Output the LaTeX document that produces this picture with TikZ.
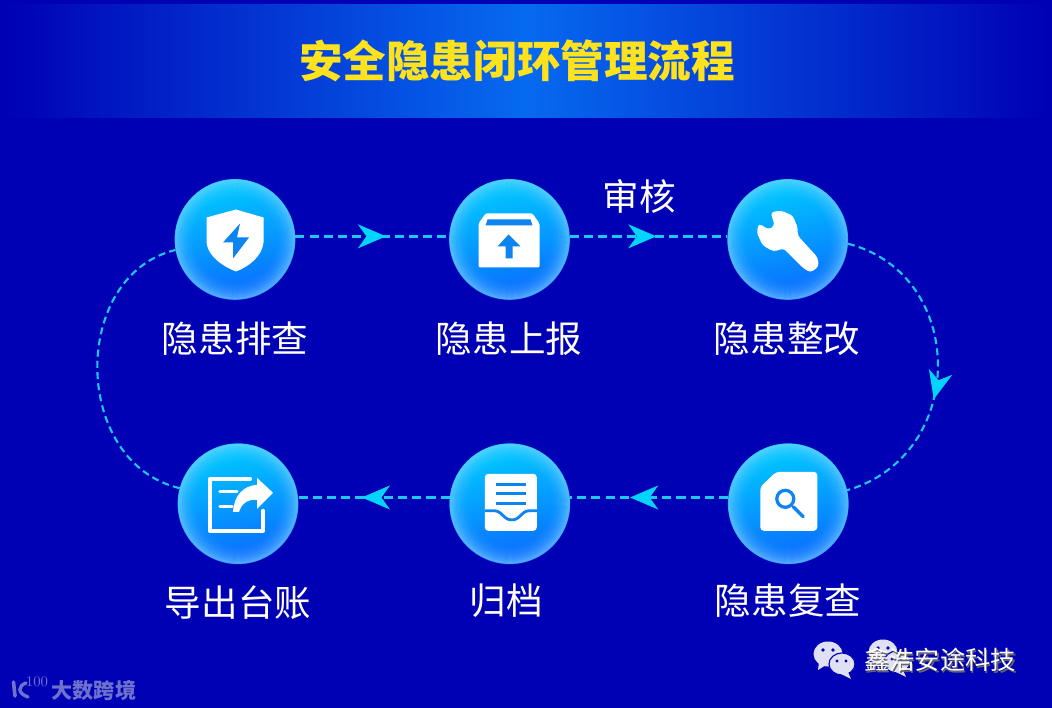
\documentclass[tikz,border=0pt]{standalone}
\usepackage{fontspec}
\usetikzlibrary{arrows.meta,decorations.markings}
\newfontfamily\cjk{Noto Sans CJK SC}
\definecolor{bgc}{RGB}{0,0,180}
\definecolor{barc}{RGB}{6,106,240}
\definecolor{titc}{RGB}{255,226,30}
\definecolor{flowc}{RGB}{30,200,245}
\definecolor{tipc}{RGB}{0,212,255}
\definecolor{ballt}{RGB}{0,205,255}
\definecolor{ballb}{RGB}{10,104,255}
\definecolor{rimc}{RGB}{130,210,255}
\definecolor{glyc}{RGB}{14,132,240}
\definecolor{wmc}{RGB}{224,224,245}
\definecolor{logoc}{RGB}{110,114,205}
\newcommand{\rimball}[1]{%
  \foreach \r/\o in {59/.58,57/.46,55/.36,53/.28,51/.21,49/.15,47/.10,45/.06,43/.03}
    \draw[rimc, opacity=\o, line width=2.1*0.71pt] (#1.center) circle[radius=\r];}
\newcommand{\icShield}[1]{%
  \begin{scope}[shift={(#1.center)}]
    \fill[white] (1,-30) -- (-28.5,-22) -- (-28.5,3) .. controls (-27,17) and (-12,27) .. (1,32)
      .. controls (14,27) and (27,17) .. (28.5,3) -- (28.5,-22) -- cycle;
    \fill[glyc] (5,-16) -- (-12,3) -- (-2,3) -- (-2,19) -- (14,-2) -- (2,-2) -- cycle;
  \end{scope}}
\newcommand{\icBox}[1]{%
  \begin{scope}[shift={(#1.center)}]
    \fill[white, rounded corners=1pt] (-24,-26) -- (23,-26) -- (30,-16) -- (30,28) -- (-31,28) -- (-31,-16) -- cycle;
    \fill[glyc] (-22,-20) -- (21,-20) -- (23,-14) -- (-24,-14) -- cycle;
    \fill[glyc] (-1,-5) -- (11,7) -- (3,7) -- (3,19) -- (-4,19) -- (-4,7) -- (-12,7) -- cycle;
  \end{scope}}
\newcommand{\icWrench}[1]{%
  \begin{scope}[shift={(#1.center)}]
    \fill[white, rounded corners=2.2pt] (-17,-27) -- (-7,-29) -- (5,-24) -- (10,-12) -- (10,-4) -- (30,18)
      -- (31,27) -- (23,33) -- (16,29) -- (-4,9) -- (-14,12) -- (-25,6) -- (-31,-7) -- (-29,-16)
      -- (-19,-10) -- (-13,-14) -- cycle;
  \end{scope}}
\newcommand{\icSearch}[1]{%
  \begin{scope}[shift={(#1.center)}]
    \fill[white, rounded corners=2.5pt] (-28,-17) -- (-12,-32) -- (29,-32) -- (29,27) -- (-28,27) -- cycle;
    \draw[glyc, line width=2.3pt] (-3,-5) circle[radius=8.5];
    \draw[glyc, line width=2.3pt, line cap=round] (5,3) -- (15,13);
  \end{scope}}
\newcommand{\icTray}[1]{%
  \begin{scope}[shift={(#1.center)}]
    \fill[white, rounded corners=2.5pt] (-25,-30) rectangle (27,27);
    \foreach \y in {-19,-10,0} { \draw[glyc, line width=2.1pt] (-14,\y) -- (16,\y); }
    \draw[glyc, line width=2pt, rounded corners=2pt] (-25,7) -- (-12,7) -- (-2,16) -- (6,16) -- (16,7) -- (27,7);
  \end{scope}}
\newcommand{\icExport}[1]{%
  \begin{scope}[shift={(#1.center)}]
    \draw[white, line width=2.9pt, line cap=round, line join=round] (12,-25) -- (-28,-25) -- (-28,27) -- (25,27) -- (25,7);
    \draw[white, line width=2.4pt, line cap=round] (-18,-12) -- (-1,-12);
    \draw[white, line width=2.4pt, line cap=round] (-18,3) -- (-6,3);
    \fill[white] (19,-26) -- (35,-11) -- (19,5) -- (19,-4) .. controls (9,-5) and (3,1) .. (1,8)
      -- (-5,8) .. controls (-4,-8) and (5,-18) .. (19,-19) -- cycle;
  \end{scope}}
\newcommand{\wechat}[2]{%
  \begin{scope}[shift={(#1,#2)}]
    \fill[wmc] (0,0) ellipse[x radius=14.5, y radius=12.5];
    \fill[wmc] (-9,8) -- (-10,16) -- (-2,11) -- cycle;
    \fill[bgc] (-5,-4) circle[radius=1.8] (5,-4) circle[radius=1.8];
    \fill[wmc, draw=bgc, line width=0.8pt] (14,10) ellipse[x radius=13, y radius=11];
    \fill[wmc] (20,18) -- (23,25) -- (13,20) -- cycle;
    \fill[bgc] (9,7) circle[radius=1.6] (18,7) circle[radius=1.6];
  \end{scope}}
\begin{document}
\begin{tikzpicture}[
    x=0.25mm, y=-0.25mm,
    ball/.style={circle, minimum size=3.02cm, inner sep=0pt, outer sep=0pt, top color=ballt, bottom color=ballb, shading angle=12},
    tag/.style={font=\cjk\fontsize{26}{30}\selectfont, text=white, inner sep=0pt},
    flow/.style={draw=flowc, line width=1.8pt, dash pattern=on 6.5pt off 3.6pt},
    thin flow/.style={draw=flowc, line width=1.5pt, dash pattern=on 5pt off 3pt},
    headat/.style={postaction={decorate}, decoration={markings, mark=at position #1 with
      {\arrow[dash pattern=]{Stealth[length=20pt, width=17pt, inset=6pt, color=tipc]}}}},
  ]
  \useasboundingbox (0,0) rectangle (1052,708);
  \fill[bgc] (0,0) rectangle (1052,708);

  % --- banner and title
  \shade[left color=bgc, right color=bgc, middle color=barc] (0,5) rectangle (1052,118);
  \node[font=\cjk\bfseries\fontsize{31}{36}\selectfont, text=titc, inner sep=0pt] (titel) at (517,61) {安全隐患闭环管理流程};

  % --- the six steps
  \node[ball] (paicha)   at (235,239.5) {};
  \node[ball] (shangbao) at (509.5,239.5) {};
  \node[ball] (zhenggai) at (787.7,239.5) {};
  \node[ball] (fucha)    at (788.3,503.8) {};
  \node[ball] (guidang)  at (509.8,503.8) {};
  \node[ball] (taizhang) at (238,503.8) {};
  \foreach \n in {paicha,shangbao,zhenggai,fucha,guidang,taizhang} { \rimball{\n} }

  \icShield{paicha}
  \icBox{shangbao}
  \icWrench{zhenggai}
  \icSearch{fucha}
  \icTray{guidang}
  \icExport{taizhang}

  \node[tag] (lbpaicha)   at (235,339) {隐患排查};
  \node[tag] (lbshangbao) at (509,339) {隐患上报};
  \node[tag] (lbzhenggai) at (787,339) {隐患整改};
  \node[tag] (lbfucha)    at (788,601) {隐患复查};
  \node[tag] (lbguidang)  at (506,601) {归档};
  \node[tag] (lbtaizhang) at (238,603) {导出台账};
  \node[tag] (lbshenhe)   at (639,197) {审核};

  % --- connectors, round the loop
  \draw[flow, headat=0.59] (paicha.3) -- (shangbao.177);
  \draw[flow, headat=0.55] (shangbao.3) -- (zhenggai.177);
  \draw[thin flow, headat=0.6] (zhenggai.-4) .. controls +(120,31) and +(121,-35) .. (fucha.13);
  \draw[flow, headat=0.62] (fucha.174) -- (guidang.6);
  \draw[flow, headat=0.58] (guidang.174) -- (taizhang.6);
  \draw[thin flow] (taizhang.165) .. controls +(-109,-26) and +(-105,25) .. (paicha.190);

  % --- watermarks
  \wechat{883}{652}
  \wechat{828}{654}
  \node[font=\cjk\fontsize{18}{20}\selectfont, text=black!60, inner sep=0pt] (wmshade) at (941.5,661.5) {鑫浩安途科技};
  \node[font=\cjk\fontsize{18}{20}\selectfont, text=white, inner sep=0pt] (wmtext) at (940,660) {鑫浩安途科技};
  \node[font=\cjk\bfseries\fontsize{15}{18}\selectfont, text=logoc, inner sep=0pt] (wmleft) at (94,690) {大数跨境};
  \draw[logoc, line width=2.6pt, line cap=round] (13.5,682) -- (15,696);
  \draw[logoc, line width=2.4pt, line cap=round] (26,683) .. controls (18,686) and (17,693) .. (28,697);
  \node[font=\fontsize{10.5}{10}\selectfont, text=logoc, inner sep=0pt] (wmhundred) at (37,682) {100};
\end{tikzpicture}
\end{document}
